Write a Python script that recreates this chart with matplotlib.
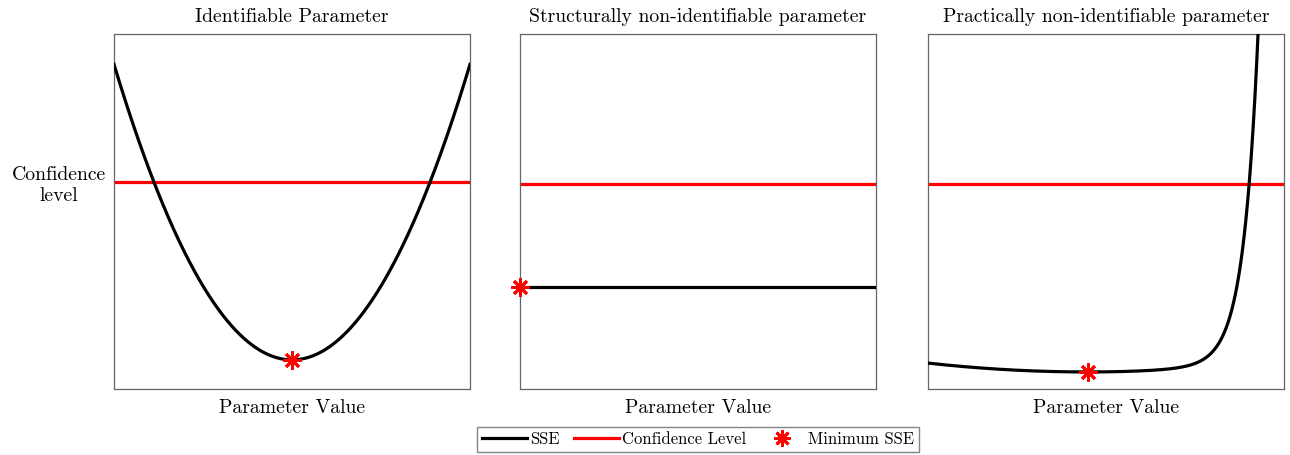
import numpy as np
import matplotlib
matplotlib.use("Agg")
import matplotlib.pyplot as plt
from matplotlib.lines import Line2D

plt.rcParams["font.family"] = ["cmr10", "DejaVu Serif"]
plt.rcParams["axes.formatter.use_mathtext"] = True
plt.rcParams["mathtext.fontset"] = "cm"

# Panel titles and labels
titles = ["Identifiable Parameter",
          "Structurally non-identifiable parameter",
          "Practically non-identifiable parameter"]
xlabel = "Parameter Value"
ylabel = "Confidence\nlevel"
legend_labels = ["SSE", "Confidence Level", "Minimum SSE"]

# Confidence threshold in each panel (normalised SSE units)
confidence = [0.583, 0.577, 0.577]

# Identifiable: quadratic profile  sse = vmin + curv * (x - xmin)^2
ident_xmin, ident_vmin, ident_curv = 0.5, 0.082, 3.33

# Structurally non-identifiable: flat profile
flat_level = 0.287
flat_xmin = 0.0

# Practically non-identifiable: shallow bowl plus steep wall on the right
prac_xmin, prac_vmin, prac_curv = 0.449, 0.048, 0.124
wall_amp, wall_scale = 5.4, 0.0413

x = np.linspace(0, 1, 600)
sse_ident = ident_vmin + ident_curv * (x - ident_xmin) ** 2
sse_flat = np.full_like(x, flat_level)
sse_prac = (prac_vmin + prac_curv * (x - prac_xmin) ** 2
            + wall_amp * np.exp((x - 1.0) / wall_scale))

profiles = [
    (sse_ident, ident_xmin, ident_vmin),
    (sse_flat, flat_xmin, flat_level),
    (sse_prac, prac_xmin, prac_vmin),
]

W, H = 1290, 455
fig = plt.figure(figsize=(W / 100, H / 100), dpi=100)
lefts = [114, 520, 928]
ax_w, top, bottom = 356, 34, 389
fs = 14.2

star = (8, 2, 0)
for i, (sse, xm, vm) in enumerate(profiles):
    ax = fig.add_axes([lefts[i] / W, 1 - bottom / H, ax_w / W, (bottom - top) / H])
    ax.plot(x, sse, color="black", lw=2.3, zorder=3)
    ax.axhline(confidence[i], color="#ff0000", lw=2.3, zorder=2)
    ax.plot([xm], [vm], linestyle="none", marker=star, ms=13, mew=2.0,
            color="#ff0000", zorder=5, clip_on=False)
    ax.set_xlim(0, 1)
    ax.set_ylim(0, 1)
    ax.set_title(titles[i], fontsize=fs, pad=9)
    ax.set_xlabel(xlabel, fontsize=fs, labelpad=7)
    ax.set_xticks([])
    if i == 0:
        ax.set_yticks([confidence[i]])
        ax.set_yticklabels([ylabel], fontsize=fs, ha="center", multialignment="center")
        ax.tick_params(axis="y", length=0, pad=39.5)
    else:
        ax.set_yticks([])
    for sp in ax.spines.values():
        sp.set_color("#666666")
        sp.set_linewidth(0.9)

handles = [
    Line2D([], [], color="black", lw=2.3),
    Line2D([], [], color="#ff0000", lw=2.3),
    Line2D([], [], color="#ff0000", linestyle="none", marker=star, ms=12, mew=2.0),
]
fig.legend(handles, legend_labels, loc="upper center", ncol=3,
           bbox_to_anchor=(698 / W, 1 - 427 / H), fontsize=12, frameon=True,
           fancybox=False, edgecolor="#666666", handlelength=2.7,
           handletextpad=0.2, columnspacing=0.8, borderpad=0.3,
           borderaxespad=0.0)

fig.savefig("out.png", dpi=100)
